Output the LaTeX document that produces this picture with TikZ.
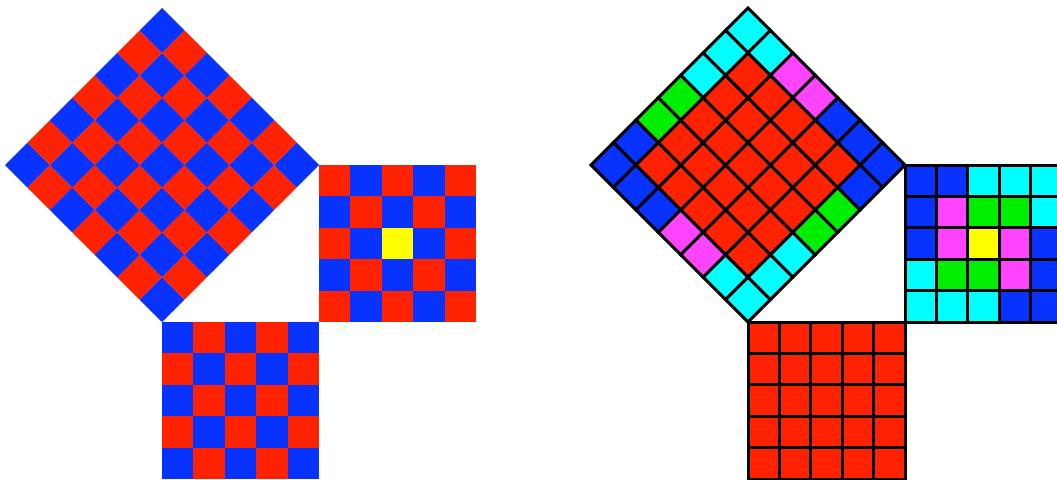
\documentclass[tikz,border=0pt]{standalone}
\definecolor{cB}{RGB}{8,51,255}
\definecolor{cR}{RGB}{255,34,0}
\definecolor{cC}{RGB}{0,255,255}
\definecolor{cG}{RGB}{0,238,0}
\definecolor{cM}{RGB}{255,68,255}
\definecolor{cY}{RGB}{255,255,0}
\tikzset{
  flat/.style={fill=#1, draw=none},
  lined/.style={fill=#1, draw=black, line width=3pt, line join=miter},
}
\begin{document}
\begin{tikzpicture}[x=1pt,y=-1pt]
\useasboundingbox (0,0) rectangle (1057,479);
\clip (0,0) rectangle (1057,479);
\def\h{22.4286}
\def\c{31.4}
% ===== left figure =====
% bottom square
\foreach \r in {0,...,4}{\foreach \cc in {0,...,4}{
  \pgfmathtruncatemacro\p{mod(\r+\cc,2)}
  \ifnum\p=0 \def\col{cB}\else\def\col{cR}\fi
  \path[flat=\col] (162+\cc*\c, 322+\r*\c) rectangle ++(\c,\c);
}}
% right square
\foreach \r in {0,...,4}{\foreach \cc in {0,...,4}{
  \pgfmathtruncatemacro\p{mod(\r+\cc,2)}
  \ifnum\p=0 \def\col{cR}\else\def\col{cB}\fi
  \ifnum\r=2 \ifnum\cc=2 \def\col{cY}\fi\fi
  \path[flat=\col] (319+\cc*\c, 165+\r*\c) rectangle ++(\c,\c);
}}
% diamond
\foreach \a in {0,...,6}{\foreach \b in {0,...,6}{
  \pgfmathtruncatemacro\p{mod(\a+\b,2)}
  \ifnum\p=0 \def\col{cB}\else\def\col{cR}\fi
  \path[flat=\col] (162+\a*\h-\b*\h, 322-\a*\h-\b*\h) -- ++(\h,-\h) -- ++(-\h,-\h) -- ++(-\h,\h) -- cycle;
}}
% ===== right figure =====
% bottom square
\foreach \r in {0,...,4}{\foreach \cc in {0,...,4}{
  \path[lined=cR] (748+\cc*\c, 322+\r*\c) rectangle ++(\c,\c);
}}
% right square
\foreach \r/\row in {0/{cB,cB,cC,cC,cC},1/{cB,cM,cG,cG,cC},2/{cB,cM,cY,cM,cB},3/{cC,cG,cG,cM,cB},4/{cC,cC,cC,cB,cB}}{
  \foreach \col [count=\cc from 0] in \row {
    \path[lined=\col] (905+\cc*\c, 165+\r*\c) rectangle ++(\c,\c);
  }
}
% diamond inner
\foreach \a in {1,...,5}{\foreach \b in {1,...,5}{
  \path[lined=cR] (748+\a*\h-\b*\h, 322-\a*\h-\b*\h) -- ++(\h,-\h) -- ++(-\h,-\h) -- ++(-\h,\h) -- cycle;
}}
% diamond ring
\foreach \a/\b/\col in {6/6/cC,6/5/cC,5/6/cC,4/6/cC,0/1/cC,0/0/cC,1/0/cC,2/0/cC,
  6/4/cM,6/3/cM,0/3/cM,0/2/cM,
  3/6/cG,2/6/cG,3/0/cG,4/0/cG,
  6/2/cB,6/1/cB,6/0/cB,1/6/cB,0/6/cB,0/5/cB,0/4/cB,5/0/cB}{
  \path[lined=\col] (748+\a*\h-\b*\h, 322-\a*\h-\b*\h) -- ++(\h,-\h) -- ++(-\h,-\h) -- ++(-\h,\h) -- cycle;
}
\end{tikzpicture}
\end{document}
